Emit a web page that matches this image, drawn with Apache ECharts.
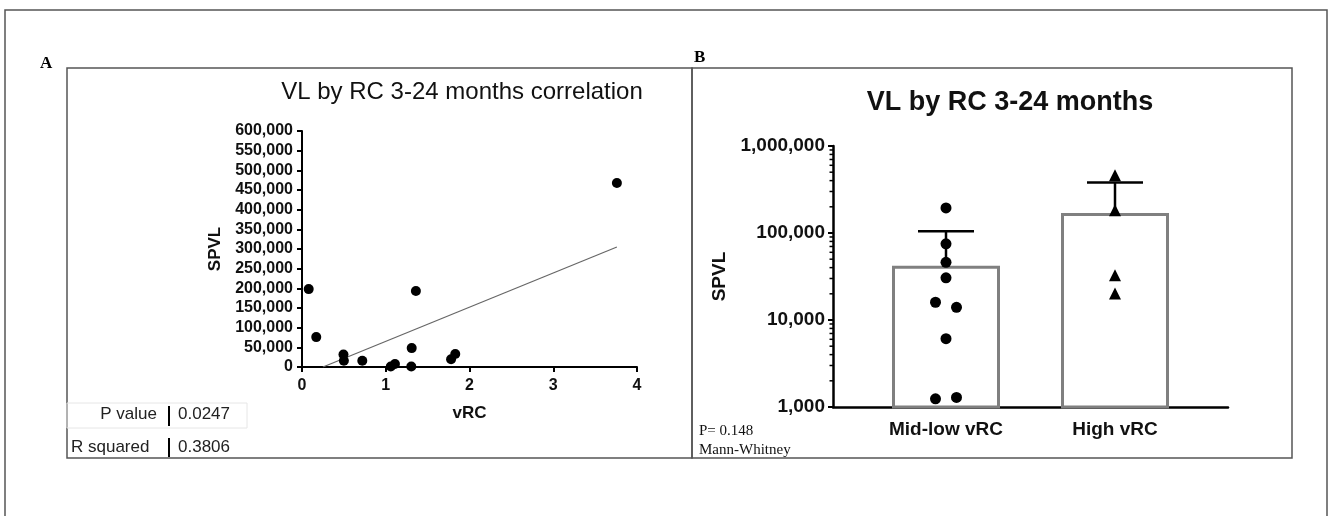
<!DOCTYPE html>
<html>
<head>
<meta charset="utf-8">
<script src="https://cdn.jsdelivr.net/npm/echarts@6/dist/echarts.min.js"></script>
<style>
    html, body { margin: 0; padding: 0; background: #fff; }
    #chart { width: 1329px; height: 516px; }
</style>
</head>
<body>
<div id="chart"></div>
<script>
    // panel A: vRC vs SPVL
    var vrcValues = [0.08, 0.17, 0.495, 0.50, 0.72, 1.06, 1.11, 1.305, 1.31, 1.36, 1.78, 1.83, 3.76];
    var spvlValues = [198000, 76000, 32000, 16000, 16000, 1200, 7600, 1300, 48000, 193000, 19500, 33000, 468000];
    var fitLine = [[0.25, 0], [3.76, 305000]];
    var statsRows = [['P value', '0.0247'], ['R squared', '0.3806']];

    // panel B: SPVL by group (log scale)
    var groups = ['Mid-low vRC', 'High vRC'];
    var groupMeans = [42000, 170000];
    var groupErrTop = [105000, 380000];
    var midLowPoints = [194000, 75000, 46000, 30500, 16000, 14000, 6100, 1240, 1290];
    var highPoints = [460000, 182000, 32700, 20100];
    var minorTicks = [2000, 3000, 4000, 5000, 6000, 7000, 8000, 9000,
        20000, 30000, 40000, 50000, 60000, 70000, 80000, 90000,
        200000, 300000, 400000, 500000, 600000, 700000, 800000, 900000];

    var SANS = "'Liberation Sans', Arial, sans-serif";
    var SERIF = "'Liberation Serif', 'Times New Roman', serif";

    function commas(v) {
        return Number(v).toLocaleString('en-US');
    }

    // side-by-side dots in the mid-low column (-1 left, 1 right)
    var midLowSide = [0, 0, 0, 0, -1, 1, 0, -1, 1];

    var chart = echarts.init(document.getElementById('chart'));

    chart.setOption({
        animation: false,
        textStyle: { fontFamily: SANS, color: '#000' },
        grid: [
            { left: 302, top: 131, width: 335, height: 236 },   // A
            { left: 833, top: 146, width: 395, height: 261 },   // B axis frame
            { left: 861.5, top: 146, width: 338, height: 261 }  // B categories
        ],
        xAxis: [
            {
                gridIndex: 0, type: 'value', min: 0, max: 4, interval: 1,
                name: 'vRC', nameLocation: 'middle', nameGap: 38,
                nameTextStyle: { fontSize: 17, fontWeight: 'bold', color: '#111' },
                axisLine: { lineStyle: { color: '#000', width: 2 } },
                axisTick: { length: 5, lineStyle: { color: '#000', width: 2 } },
                axisLabel: { fontSize: 16, fontWeight: 'bold', color: '#111', margin: 11 },
                splitLine: { show: false }
            },
            {
                gridIndex: 1, type: 'value', min: 0, max: 1,
                axisLine: { lineStyle: { color: '#000', width: 2.5 } },
                axisTick: { show: false },
                axisLabel: { show: false },
                splitLine: { show: false }
            },
            {
                gridIndex: 2, type: 'category', data: groups,
                axisLine: { show: false },
                axisTick: { alignWithLabel: true, length: 6, lineStyle: { color: '#000', width: 2 } },
                axisLabel: { fontSize: 19, fontWeight: 'bold', color: '#111', margin: 13 }
            }
        ],
        yAxis: [
            {
                gridIndex: 0, type: 'value', min: 0, max: 600000, interval: 50000,
                name: 'SPVL', nameLocation: 'middle', nameGap: 78,
                nameTextStyle: { fontSize: 17, fontWeight: 'bold', color: '#111' },
                axisLine: { show: true, lineStyle: { color: '#000', width: 2 } },
                axisTick: { show: true, length: 5, lineStyle: { color: '#000', width: 2 } },
                axisLabel: { fontSize: 16, fontWeight: 'bold', color: '#111', margin: 9, formatter: commas },
                splitLine: { show: false }
            },
            {
                gridIndex: 1, type: 'log', logBase: 10, min: 1000, max: 1000000,
                name: 'SPVL', nameLocation: 'middle', nameGap: 104,
                nameTextStyle: { fontSize: 19, fontWeight: 'bold', color: '#111' },
                axisLine: { show: true, lineStyle: { color: '#000', width: 2.5 } },
                axisTick: { show: true, length: 5, lineStyle: { color: '#000', width: 2 } },
                axisLabel: { fontSize: 19, fontWeight: 'bold', color: '#111', margin: 8, formatter: commas },
                splitLine: { show: false }
            },
            {
                gridIndex: 2, type: 'log', logBase: 10, min: 1000, max: 1000000, show: false
            }
        ],
        series: [
            {
                type: 'scatter', xAxisIndex: 0, yAxisIndex: 0,
                data: vrcValues.map(function (x, i) { return [x, spvlValues[i]]; }),
                symbolSize: 10,
                itemStyle: { color: '#000', opacity: 1 },
                z: 5
            },
            {
                type: 'line', xAxisIndex: 0, yAxisIndex: 0,
                data: fitLine,
                showSymbol: false,
                lineStyle: { color: '#666', width: 1.2 },
                z: 3
            },
            {
                type: 'custom', xAxisIndex: 1, yAxisIndex: 1,
                data: minorTicks.map(function (v) { return [0, v]; }),
                renderItem: function (params, api) {
                    var p = api.coord([0, api.value(1)]);
                    return {
                        type: 'line',
                        shape: { x1: p[0] - 3.5, y1: p[1], x2: p[0], y2: p[1] },
                        style: { stroke: '#000', lineWidth: 1.5 }
                    };
                },
                silent: true
            },
            {
                type: 'bar', xAxisIndex: 2, yAxisIndex: 2,
                data: groupMeans,
                barWidth: 108,
                itemStyle: { color: '#fff', borderColor: '#808080', borderWidth: 3 },
                z: 2
            },
            {
                type: 'custom', xAxisIndex: 2, yAxisIndex: 2,
                data: groupMeans.map(function (m, i) { return [i, m, groupErrTop[i]]; }),
                renderItem: function (params, api) {
                    var base = api.coord([api.value(0), api.value(1)]);
                    var top = api.coord([api.value(0), api.value(2)]);
                    var half = 28;
                    return {
                        type: 'group',
                        children: [
                            { type: 'line', shape: { x1: base[0], y1: base[1], x2: top[0], y2: top[1] },
                              style: { stroke: '#000', lineWidth: 2.5 } },
                            { type: 'line', shape: { x1: top[0] - half, y1: top[1], x2: top[0] + half, y2: top[1] },
                              style: { stroke: '#000', lineWidth: 2.5 } }
                        ]
                    };
                },
                z: 4
            },
            {
                type: 'scatter', xAxisIndex: 2, yAxisIndex: 2,
                data: midLowPoints.map(function (v, i) {
                    return { value: [0, v], symbolOffset: [midLowSide[i] * 10.5, 0] };
                }),
                symbolSize: 11,
                itemStyle: { color: '#000', opacity: 1 },
                z: 5
            },
            {
                type: 'scatter', xAxisIndex: 2, yAxisIndex: 2,
                data: highPoints.map(function (v) { return [1, v]; }),
                symbol: 'triangle',
                symbolSize: 12,
                itemStyle: { color: '#000', opacity: 1 },
                z: 5
            }
        ],
        graphic: [
            // outer frame and panels
            { type: 'rect', shape: { x: 5, y: 10, width: 1322, height: 520 },
              style: { fill: 'none', stroke: '#555', lineWidth: 1.5 }, silent: true },
            { type: 'rect', shape: { x: 67, y: 68, width: 625, height: 390 },
              style: { fill: 'none', stroke: '#555', lineWidth: 1.5 }, silent: true },
            { type: 'rect', shape: { x: 692, y: 68, width: 600, height: 390 },
              style: { fill: 'none', stroke: '#555', lineWidth: 1.5 }, silent: true },
            { type: 'text', x: 40, y: 55,
              style: { text: 'A', font: 'bold 17px ' + SERIF, fill: '#000' } },
            { type: 'text', x: 694, y: 49,
              style: { text: 'B', font: 'bold 17px ' + SERIF, fill: '#000' } },
            // titles
            { type: 'text', x: 462, y: 92,
              style: { text: 'VL by RC 3-24 months correlation', font: '24px ' + SANS, fill: '#111',
                       textAlign: 'center', textVerticalAlign: 'middle' } },
            { type: 'text', x: 1010, y: 103,
              style: { text: 'VL by RC 3-24 months', font: 'bold 27px ' + SANS, fill: '#111',
                       textAlign: 'center', textVerticalAlign: 'middle' } },
            // stats table
            { type: 'rect', shape: { x: 67, y: 403, width: 180, height: 25 },
              style: { fill: 'none', stroke: '#e6e6e6', lineWidth: 1 }, silent: true },
            { type: 'line', shape: { x1: 169, y1: 406, x2: 169, y2: 426 },
              style: { stroke: '#000', lineWidth: 2 } },
            { type: 'line', shape: { x1: 169, y1: 438, x2: 169, y2: 457 },
              style: { stroke: '#000', lineWidth: 2 } },
            { type: 'text', x: 157, y: 414,
              style: { text: statsRows[0][0], font: '17px ' + SANS, fill: '#222',
                       textAlign: 'right', textVerticalAlign: 'middle' } },
            { type: 'text', x: 178, y: 414,
              style: { text: statsRows[0][1], font: '17px ' + SANS, fill: '#222',
                       textVerticalAlign: 'middle' } },
            { type: 'text', x: 71, y: 447,
              style: { text: statsRows[1][0], font: '17px ' + SANS, fill: '#222',
                       textVerticalAlign: 'middle' } },
            { type: 'text', x: 178, y: 447,
              style: { text: statsRows[1][1], font: '17px ' + SANS, fill: '#222',
                       textVerticalAlign: 'middle' } },
            // test note
            { type: 'text', x: 699, y: 431,
              style: { text: 'P= 0.148', font: '15px ' + SERIF, fill: '#111', textVerticalAlign: 'middle' } },
            { type: 'text', x: 699, y: 450,
              style: { text: 'Mann-Whitney', font: '15px ' + SERIF, fill: '#111', textVerticalAlign: 'middle' } }
        ]
    });
</script>
</body>
</html>
